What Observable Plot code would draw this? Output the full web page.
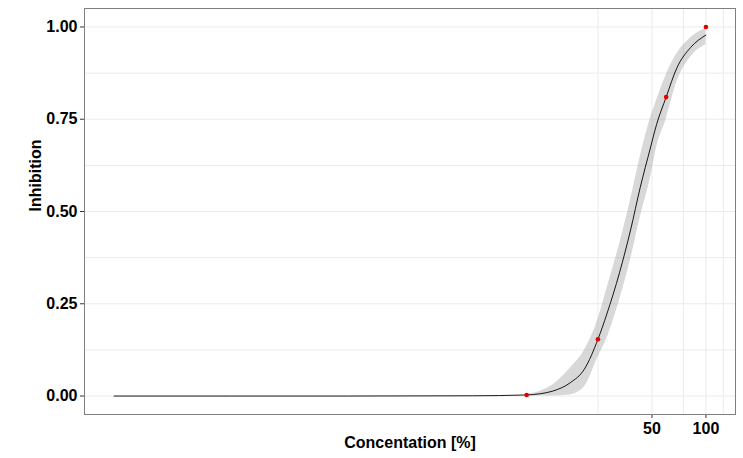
<!DOCTYPE html>
<html>
<head>
<meta charset="utf-8">
<script src="https://cdn.jsdelivr.net/npm/d3@7"></script>
<script src="https://cdn.jsdelivr.net/npm/@observablehq/plot@0.6"></script>
<style>
  html, body { margin: 0; padding: 0; background: #fff; }
  #chart svg { display: block; }
</style>
</head>
<body>
<div id="chart"></div>
<script>
// Observed points
const pointConc = [10, 25, 60, 100];
const pointInhib = [0.003, 0.154, 0.81, 1.0];

// Fitted curve
const curveConc  = [0.05, 1, 5, 10, 12, 14, 17.5, 21, 25, 28, 33, 38, 43, 49, 53, 60, 69, 82, 100];
const curveInhib = [0, 0, 0.0007, 0.003, 0.0065, 0.0135, 0.036, 0.073, 0.154, 0.222, 0.335, 0.45, 0.565, 0.672, 0.735, 0.81, 0.89, 0.944, 0.978];

// Confidence band
const bandConc  = [10, 12, 14, 17.5, 21, 25, 28, 33, 38, 43, 49, 53, 60, 69, 82, 100];
const bandLower = [0, 0, 0, 0.003, 0.025, 0.105, 0.155, 0.26, 0.37, 0.483, 0.59, 0.672, 0.75, 0.852, 0.918, 0.952];
const bandUpper = [0.005, 0.014, 0.03, 0.075, 0.124, 0.208, 0.29, 0.412, 0.532, 0.648, 0.752, 0.8, 0.87, 0.928, 0.97, 0.997];

// Axes
const xTicks = [50, 100];
const xTickLabels = ["50", "100"];
const xGrid = [25, 50, 75, 100, 125];
const yTicks = [0, 0.25, 0.5, 0.75, 1.0];
const yGrid = [0, 0.125, 0.25, 0.375, 0.5, 0.625, 0.75, 0.875, 1.0];
const xTitle = "Concentation [%]";
const yTitle = "Inhibition";

const curve = curveConc.map((c, i) => ({c, y: curveInhib[i]}));
const band = bandConc.map((c, i) => ({c, lo: bandLower[i], hi: bandUpper[i]}));
const pts = pointConc.map((c, i) => ({c, y: pointInhib[i]}));
const xLab = xTicks.map((c, i) => ({c, t: xTickLabels[i]}));

const chart = Plot.plot({
  width: 743,
  height: 458,
  marginLeft: 84,
  marginRight: 8,
  marginTop: 8,
  marginBottom: 44,
  style: {fontFamily: "'Liberation Sans', Arial, sans-serif", fontWeight: "bold", color: "#000", background: "#fff"},
  x: {type: "log", domain: [0.0342, 146.2]},
  y: {domain: [-0.05, 1.05]},
  marks: [
    Plot.gridX(xGrid, {stroke: "#ebebeb", strokeOpacity: 1, strokeWidth: 1}),
    Plot.gridY(yGrid, {stroke: "#ebebeb", strokeOpacity: 1, strokeWidth: 1}),
    Plot.areaY(band, {x: "c", y1: "lo", y2: "hi", fill: "#999", fillOpacity: 0.38, curve: "monotone-x"}),
    Plot.line(curve, {x: "c", y: "y", stroke: "#000", strokeWidth: 0.9, curve: "monotone-x"}),
    Plot.dot(pts, {x: "c", y: "y", r: 2.3, fill: "#e00000", stroke: "none"}),
    Plot.axisY(yTicks, {tickFormat: d3.format(".2f"), tickSize: 4, tickPadding: 3, fontSize: 16, fontWeight: "bold", stroke: "#333", label: null}),
    Plot.axisX(xTicks, {tickFormat: () => "", tickSize: 4, stroke: "#333", label: null}),
    Plot.text(xLab, {x: "c", frameAnchor: "bottom", text: "t", lineAnchor: "top", dy: 8, fontSize: 16, fontWeight: "bold", fill: "#000"}),
    Plot.text([xTitle], {frameAnchor: "bottom", text: d => d, dy: 33, fontSize: 16, fontWeight: "bold", fill: "#000"}),
    Plot.text([yTitle], {frameAnchor: "left", text: d => d, dx: -48.5, rotate: -90, fontSize: 16, fontWeight: "bold", fill: "#000"}),
    Plot.frame({stroke: "#7f7f7f", strokeWidth: 1})
  ]
});
document.getElementById("chart").appendChild(chart);
</script>
</body>
</html>
